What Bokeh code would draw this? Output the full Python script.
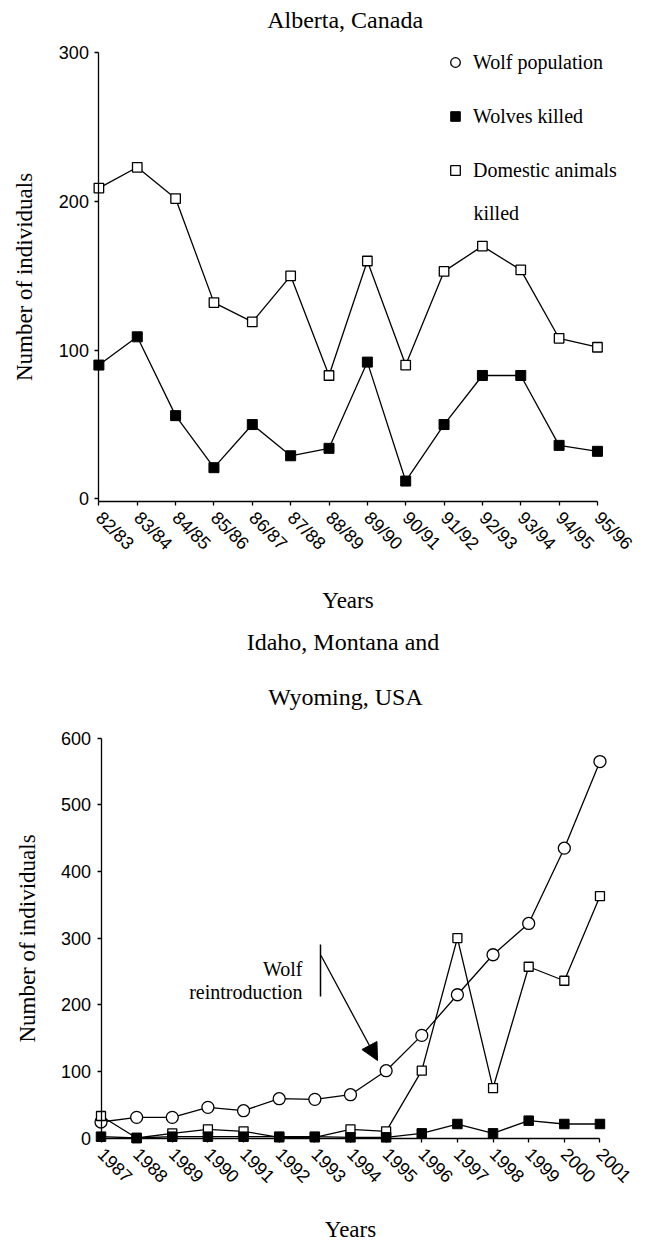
import math
from bokeh.plotting import figure
from bokeh.models import (Range1d, LinearAxis, FixedTicker, Legend, LegendItem,
                          Label, Arrow, NormalHead)
from bokeh.layouts import column
from bokeh.embed import file_html
from bokeh.resources import INLINE

# ---------------- data ----------------
alberta_seasons = ["82/83", "83/84", "84/85", "85/86", "86/87", "87/88", "88/89",
                   "89/90", "90/91", "91/92", "92/93", "93/94", "94/95", "95/96"]
alberta_wolves_killed = [90, 109, 56, 21, 50, 29, 34, 92, 12, 50, 83, 83, 36, 32]
alberta_domestic_killed = [209, 223, 202, 132, 119, 150, 83, 160, 90, 153, 170, 154, 108, 102]

usa_years = [1987, 1988, 1989, 1990, 1991, 1992, 1993, 1994, 1995, 1996, 1997,
             1998, 1999, 2000, 2001]
usa_wolf_population = [24, 31, 31, 46, 41, 59, 58, 65, 101, 154, 215, 275, 322, 435, 565]
usa_domestic_killed = [33, 0, 7, 13, 10, 1, 1, 13, 10, 101, 300, 75, 257, 236, 363]
usa_wolves_killed = [2, 0, 2, 2, 2, 2, 2, 1, 1, 7, 21, 7, 26, 21, 21]

y_ticks_top = [0, 100, 200, 300]
y_ticks_bottom = [0, 100, 200, 300, 400, 500, 600]

# ---------------- layout geometry (page pixels) ----------------
W = 657
TOP_H = 620
BOT_H = 622
PAGE_OFF = 0

SERIF = "Liberation Serif"
SANS = "Liberation Sans"
BLACK = "#000000"
LW = 1.3

# top chart mapping
T_X0, T_DX = 98.4, 38.35     # page x of first season, px per season
T_Y0, T_DY = 498.4, 1.487    # page y of value 0, px per unit
# bottom chart mapping
B_X0, B_DX = 100.5, 35.64
B_Y0, B_DY = 1137.5, 0.6663
B_TOP = PAGE_OFF + TOP_H


def tx(px):
    return (px - T_X0) / T_DX


def ty(py):
    return (T_Y0 - py) / T_DY


def bx(px):
    return usa_years[0] + (px - B_X0) / B_DX


def by(py):
    return (B_Y0 - py) / B_DY


def style_axis(ax, label_size="18px"):
    ax.axis_line_color = BLACK
    ax.axis_line_width = LW
    ax.major_tick_line_color = BLACK
    ax.major_tick_line_width = LW
    ax.major_tick_out = 4
    ax.major_tick_in = 0
    ax.minor_tick_line_color = None
    ax.major_label_text_font = SANS
    ax.major_label_text_font_size = label_size
    ax.major_label_text_color = BLACK
    ax.axis_label_text_font = SERIF
    ax.axis_label_text_font_size = "23px"
    ax.axis_label_text_font_style = "normal"
    ax.axis_label_text_color = BLACK


# ================= TOP: Alberta =================
p1 = figure(width=W, height=TOP_H,
            x_range=Range1d(tx(PAGE_OFF), tx(PAGE_OFF + W)),
            y_range=Range1d(ty(PAGE_OFF + TOP_H), ty(PAGE_OFF)),
            x_axis_type=None, y_axis_type=None,
            toolbar_location=None, output_backend="svg", min_border=0)
p1.outline_line_color = None

xs_top = list(range(len(alberta_seasons)))

p1.line(xs_top, alberta_domestic_killed, line_color=BLACK, line_width=LW)
p1.line(xs_top, alberta_wolves_killed, line_color=BLACK, line_width=LW)
r_dom = p1.scatter(xs_top, alberta_domestic_killed, marker="square", size=9.5,
                   fill_color="white", line_color=BLACK, line_width=LW)
r_kill = p1.scatter(xs_top, alberta_wolves_killed, marker="square", size=10,
                    fill_color=BLACK, line_color=BLACK)
# no wolf-population series for Alberta: legend-only renderer without visible points
r_pop = p1.scatter(x=[float("nan")], y=[float("nan")], marker="circle", size=11,
                   fill_color="white", line_color=BLACK, line_width=LW)

yax1 = LinearAxis(fixed_location=0, bounds=(-2, 300),
                  ticker=FixedTicker(ticks=y_ticks_top),
                  axis_label="Number of individuals")
style_axis(yax1)
yax1.major_label_standoff = 6
yax1.axis_label_standoff = 18
p1.add_layout(yax1, "left")

xax1 = LinearAxis(fixed_location=-2, bounds=(0, len(alberta_seasons) - 1),
                  ticker=FixedTicker(ticks=xs_top),
                  major_label_overrides={i: s for i, s in enumerate(alberta_seasons)},
                  major_label_orientation=-math.pi / 4,
                  axis_label="Years")
style_axis(xax1)
xax1.major_label_standoff = 9
xax1.axis_label_standoff = 25
p1.add_layout(xax1, "below")

p1.add_layout(Label(x=tx(344.6), y=ty(19), text="Alberta, Canada",
                    text_align="center", text_baseline="middle",
                    text_font=SERIF, text_font_size="24px", text_color=BLACK))

legend = Legend(items=[LegendItem(label="Wolf population", renderers=[r_pop]),
                       LegendItem(label="Wolves killed", renderers=[r_kill]),
                       LegendItem(label="Domestic animals", renderers=[r_dom])],
                location=(443, 438), orientation="vertical",
                border_line_color=None, background_fill_alpha=0,
                label_text_font=SERIF, label_text_font_size="20px",
                label_text_color=BLACK,
                glyph_width=24, glyph_height=24, label_height=24,
                spacing=30, padding=0, margin=0, label_standoff=6)
p1.add_layout(legend)
p1.add_layout(Label(x=tx(473), y=ty(212.3), text="killed",
                    text_align="left", text_baseline="middle",
                    text_font=SERIF, text_font_size="20px", text_color=BLACK))

# ================= BOTTOM: Idaho, Montana, Wyoming =================
p2 = figure(width=W, height=BOT_H,
            x_range=Range1d(bx(PAGE_OFF), bx(PAGE_OFF + W)),
            y_range=Range1d(by(B_TOP + BOT_H), by(B_TOP)),
            x_axis_type=None, y_axis_type=None,
            toolbar_location=None, output_backend="svg", min_border=0)
p2.outline_line_color = None

p2.line(usa_years, usa_wolf_population, line_color=BLACK, line_width=LW)
p2.line(usa_years, usa_domestic_killed, line_color=BLACK, line_width=LW)
p2.line(usa_years, usa_wolves_killed, line_color=BLACK, line_width=LW)
p2.scatter(usa_years, usa_wolf_population, marker="circle", size=12,
           fill_color="white", line_color=BLACK, line_width=LW)
p2.scatter(usa_years, usa_domestic_killed, marker="square", size=9,
           fill_color="white", line_color=BLACK, line_width=LW)
p2.scatter(usa_years, usa_wolves_killed, marker="square", size=9.5,
           fill_color=BLACK, line_color=BLACK)

yax2 = LinearAxis(fixed_location=usa_years[0], bounds=(0, 600),
                  ticker=FixedTicker(ticks=y_ticks_bottom),
                  axis_label="Number of individuals")
style_axis(yax2)
yax2.major_label_standoff = 6
yax2.axis_label_standoff = 18
p2.add_layout(yax2, "left")

xax2 = LinearAxis(fixed_location=0, bounds=(usa_years[0], usa_years[-1]),
                  ticker=FixedTicker(ticks=usa_years),
                  major_label_orientation=-math.pi / 4,
                  axis_label="Years")
style_axis(xax2)
xax2.major_label_standoff = 9
xax2.axis_label_standoff = 25
p2.add_layout(xax2, "below")

for txt, cx, cy in [("Idaho, Montana and", 342.5, 641), ("Wyoming, USA", 345, 696)]:
    p2.add_layout(Label(x=bx(cx), y=by(cy), text=txt,
                        text_align="center", text_baseline="middle",
                        text_font=SERIF, text_font_size="24px", text_color=BLACK))

# annotation: Wolf reintroduction
p2.add_layout(Label(x=bx(302), y=by(968), text="Wolf", text_align="right",
                    text_baseline="alphabetic", text_font=SERIF,
                    text_font_size="20px", text_color=BLACK))
p2.add_layout(Label(x=bx(302), y=by(991.5), text="reintroduction", text_align="right",
                    text_baseline="alphabetic", text_font=SERIF,
                    text_font_size="20px", text_color=BLACK))
p2.add_layout(Arrow(end=None, x_start=bx(320), y_start=by(944),
                    x_end=bx(320), y_end=by(996),
                    line_color=BLACK, line_width=1.5))
p2.add_layout(Arrow(end=NormalHead(size=17, fill_color=BLACK, line_color=BLACK),
                    x_start=bx(320.5), y_start=by(955),
                    x_end=bx(377), y_end=by(1060),
                    line_color=BLACK, line_width=LW))

layout = column(p1, p2, spacing=0)
open("out.html", "w").write(file_html(layout, INLINE))
